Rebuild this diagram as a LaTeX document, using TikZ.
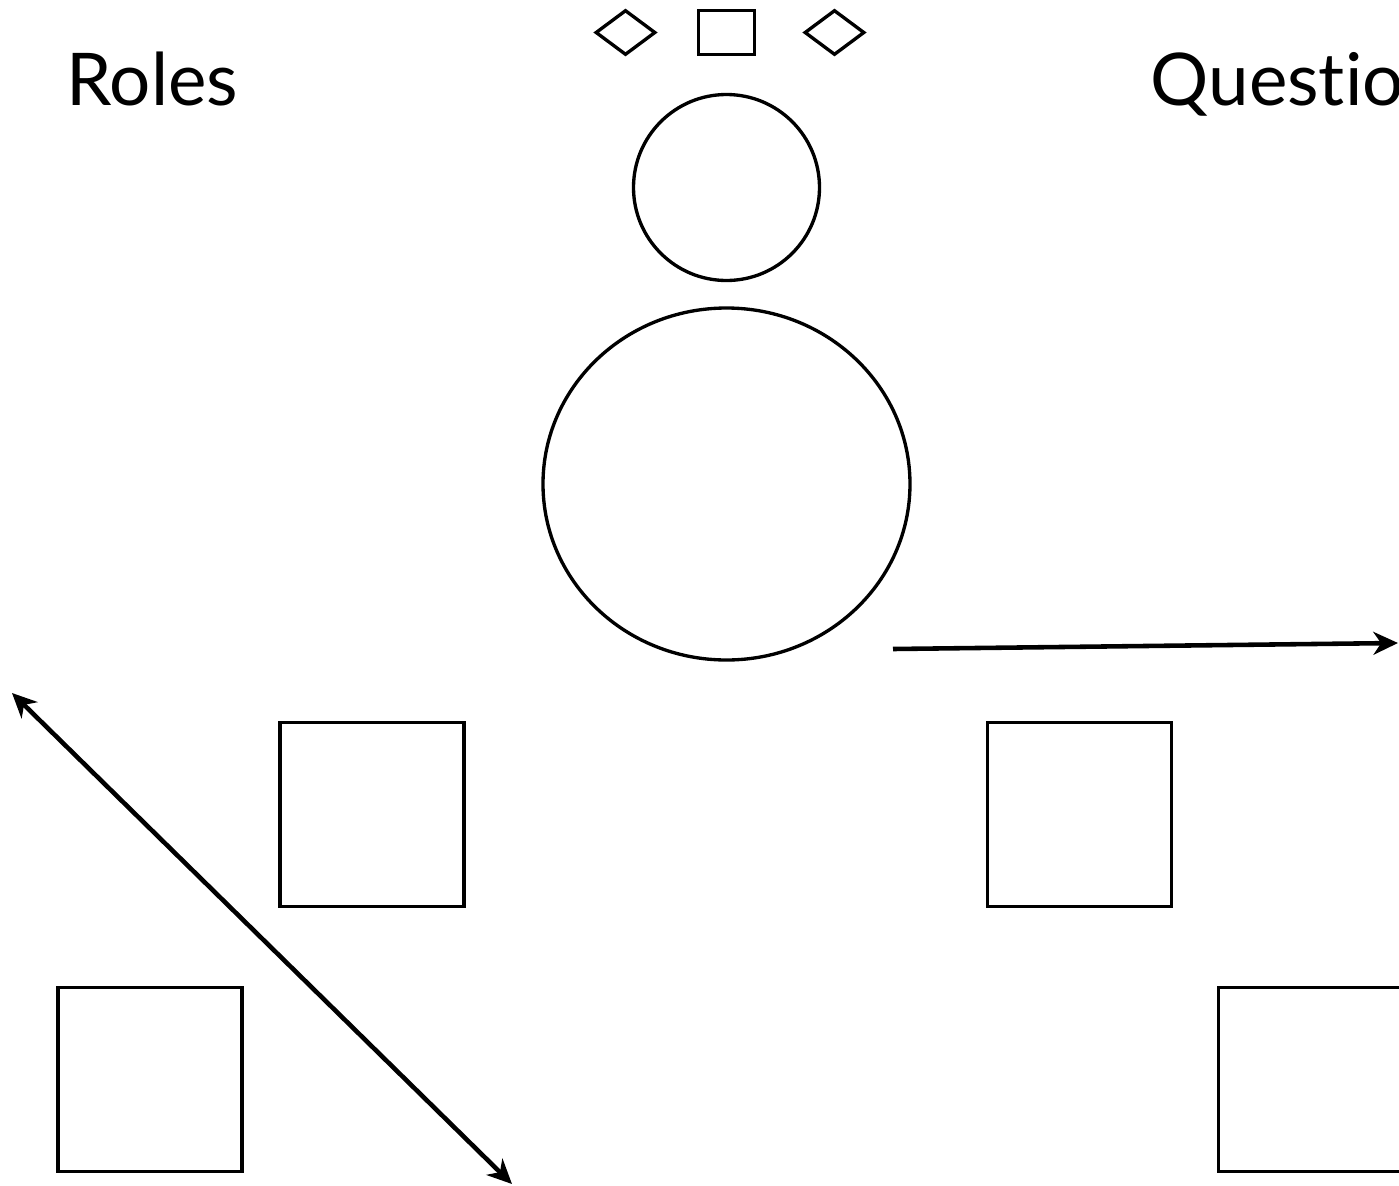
\documentclass[tikz,border=0pt]{standalone}
\usepackage{fontspec}
\setmainfont{Lato}[Ligatures={NoCommon}]
\usetikzlibrary{arrows.meta,positioning,shapes.geometric}

\begin{document}
\begin{tikzpicture}[
  box/.style={rectangle, draw=black, line width=0.95pt, minimum width=1.84cm, minimum height=1.84cm, inner sep=0pt},
  tiny/.style={draw=black, line width=0.95pt, inner sep=0pt},
  label/.style={font=\fontsize{20.7}{24}\selectfont, anchor=base west, inner sep=0pt},
  arr/.style={line width=1.3pt, -{Stealth[length=7pt, width=6.5pt, inset=2.2pt]}},
  darr/.style={line width=1.3pt, {Stealth[length=7pt, width=6.5pt, inset=2.2pt]}-{Stealth[length=7pt, width=6.5pt, inset=2.2pt]}},
]
\useasboundingbox (0,0) rectangle (13.99,-11.86);
\clip (0,0) rectangle (13.99,-11.86);

% ─── Titles ───
\node[label] (roles) at (0.66, -1.05) {Roles};
\node[label] (quest) at (11.50, -1.05) {Questio\kern0ptns};

% ─── Top symbols ───
\node[tiny, diamond, minimum width=0.60cm, minimum height=0.45cm] (dl) at (6.255, -0.325) {};
\node[tiny, rectangle, minimum width=0.565cm, minimum height=0.44cm] (sq) at (7.265, -0.325) {};
\node[tiny, diamond, minimum width=0.60cm, minimum height=0.45cm] (dr) at (8.345, -0.325) {};

% ─── Head and body ───
\node[tiny, circle, minimum size=1.86cm] (head) at (7.265, -1.875) {};
\node[tiny, ellipse, minimum width=3.67cm, minimum height=3.52cm] (body) at (7.265, -4.84) {};

% ─── Squares ───
\node[box] (s1) at (3.72, -8.145) {};
\node[box] (s2) at (10.795, -8.145) {};
\node[box] (s3) at (1.50, -10.795) {};
\node[box] (s4) at (13.105, -10.795) {};

% ─── Arrows ───
\coordinate (h0) at (8.93, -6.49);
\coordinate (h1) at (13.98, -6.43);
\coordinate (d0) at (0.12, -6.93);
\coordinate (d1) at (5.12, -11.84);
\draw[arr] (h0) -- (h1);
\draw[darr] (d0) -- (d1);

\end{tikzpicture}
\end{document}
